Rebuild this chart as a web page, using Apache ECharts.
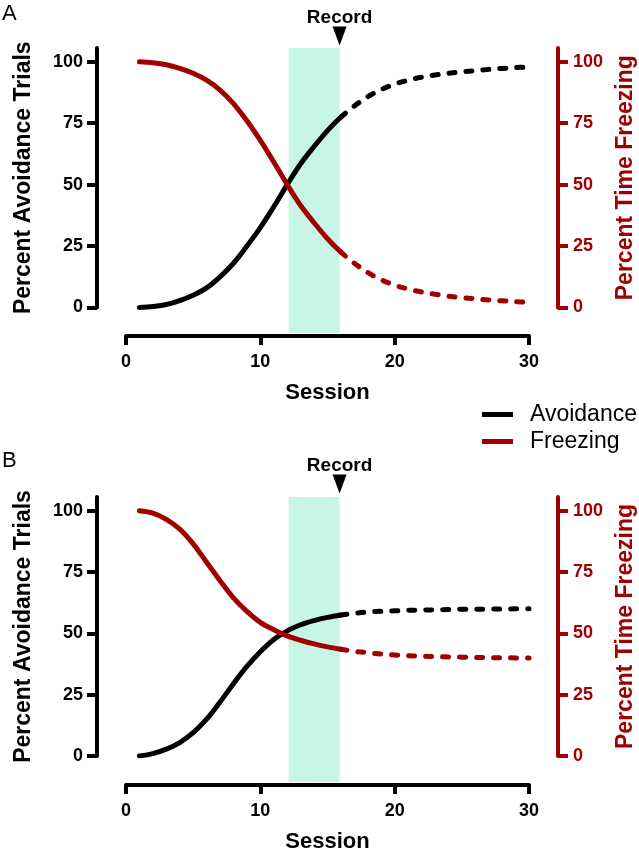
<!DOCTYPE html>
<html>
<head>
<meta charset="utf-8">
<script src="https://cdn.jsdelivr.net/npm/echarts@6/dist/echarts.min.js"></script>
<style>
html,body{margin:0;padding:0;background:#fff;overflow:hidden;}
#chart{width:639px;height:853px;}
</style>
</head>
<body>
<div id="chart"></div>
<script>
// ---- data ----
const sessions = [1,2,3,4,5,6,7,8,9,10,11,12,13,14,15,16,17,18,19,20,21,22,23,24,25,26,27,28,29,30];
const avoidA  = [0,0.4,1.2,2.8,5,8,12.5,18,25,32.5,41,50,58.5,65.5,72,77.5,82,85.8,88.7,90.9,92.5,93.7,94.6,95.3,95.9,96.4,96.9,97.3,97.6,97.9];
const freezeA = [100,99.6,98.8,97.3,95.3,92.5,88.5,83,76,68,59.2,50,41.5,34.5,28,22.5,18,14.2,11.3,9.1,7.5,6.3,5.4,4.6,4,3.5,3.1,2.7,2.4,2.1];
const avoidB  = [0,1,2.8,5.5,9.5,15,22,29.5,36.5,42.5,47.5,51,53.5,55.2,56.5,57.5,58.2,58.7,59,59.2,59.4,59.5,59.6,59.7,59.8,59.8,59.9,59.9,60,60];
const freezeB = [100,99,96.5,92.5,86.5,79,71.5,64.5,59,54.5,51.5,49,47.2,45.7,44.5,43.5,42.7,42.1,41.6,41.2,40.9,40.7,40.5,40.4,40.3,40.2,40.1,40.1,40,40];
const recordSession = 16;     // solid up to here, dashed after
const bandStart = 12.1;
const bandEnd = 15.9;
const xTicks = [0,10,20,30];
const yTicks = [0,25,50,75,100];
const yMax = 105.6;
const panelLabels = ['A','B'];
const legendNames = ['Avoidance','Freezing'];

const RED = '#a00000';
const FONT = 'Liberation Sans, Arial, Helvetica, sans-serif';

function pairs(vals, from, to){
  const out = [];
  for (let i = 0; i < sessions.length; i++) {
    if (sessions[i] >= from && sessions[i] <= to) out.push([sessions[i], vals[i]]);
  }
  return out;
}

const chart = echarts.init(document.getElementById('chart'), null, {renderer:'canvas'});

const L = 126, R = 110;
function grid(top, bottom){
  return {left:L, right:R, top, bottom, containLabel:false, outerBoundsMode:'none'};
}
const grids = [
  grid(48, 545.5),  // A lines
  grid(48, 520),    // A band
  grid(497, 97),    // B lines
  grid(497, 71)     // B band
];

function visibleX(gridIndex, offset){
  return {
    type:'value', gridIndex, min:0, max:30, interval:10, offset,
    name:'Session', nameLocation:'middle', nameGap:46,
    nameTextStyle:{fontSize:22, fontWeight:'bold', color:'#000', fontFamily:FONT},
    axisLine:{show:true, onZero:false, lineStyle:{color:'#000', width:4}},
    axisTick:{show:true, inside:false, length:9, customValues:xTicks, lineStyle:{color:'#000', width:4}},
    axisLabel:{show:true, margin:17, customValues:xTicks, fontSize:18, fontWeight:'bold', color:'#000', fontFamily:FONT},
    splitLine:{show:false}
  };
}
function hiddenX(gridIndex){
  return {type:'value', gridIndex, min:0, max:30, show:false, splitLine:{show:false}};
}
function leftY(gridIndex){
  return {
    type:'value', gridIndex, position:'left', offset:29, min:0, max:yMax,
    name:'Percent Avoidance Trials', nameLocation:'middle', nameGap:62,
    nameTextStyle:{fontSize:23, fontWeight:'bold', color:'#000', fontFamily:FONT},
    axisLine:{show:true, onZero:false, lineStyle:{color:'#000', width:4}},
    axisTick:{show:true, inside:false, length:10, customValues:yTicks, lineStyle:{color:'#000', width:4}},
    axisLabel:{show:true, margin:14, customValues:yTicks, fontSize:18, fontWeight:'bold', color:'#000', fontFamily:FONT},
    splitLine:{show:false}
  };
}
function rightY(gridIndex){
  return {
    type:'value', gridIndex, position:'right', offset:29, min:0, max:yMax,
    name:'Percent Time Freezing', nameLocation:'middle', nameGap:56,
    nameTextStyle:{fontSize:23, fontWeight:'bold', color:RED, fontFamily:FONT},
    axisLine:{show:true, onZero:false, lineStyle:{color:RED, width:4}},
    axisTick:{show:true, inside:false, length:10, customValues:yTicks, lineStyle:{color:RED, width:4}},
    axisLabel:{show:true, margin:15, customValues:yTicks, fontSize:18, fontWeight:'bold', color:RED, fontFamily:FONT},
    splitLine:{show:false}
  };
}
function hiddenY(gridIndex){
  return {type:'value', gridIndex, min:0, max:1, show:false, splitLine:{show:false}};
}

function curve(name, color, data, xi, yi, dashed){
  return {
    name, type:'line', xAxisIndex:xi, yAxisIndex:yi, data,
    smooth:0.35, symbol:'none', showSymbol:false, silent:true, z:3,
    itemStyle:{color},
    lineStyle:{color, width:5, cap:'round', join:'round', type: dashed ? [6,11] : 'solid'}
  };
}
function band(xi, yi, arrowOffset, textOffset){
  return {
    name:'band', type:'line', xAxisIndex:xi, yAxisIndex:yi, data:[], z:1, silent:true,
    markArea:{silent:true, itemStyle:{color:'#c8f6e6', opacity:1},
      data:[[{xAxis:bandStart},{xAxis:bandEnd}]]},
    markPoint:{silent:true, animation:false,
      data:[
        {coord:[bandEnd,1], symbol:'triangle', symbolRotate:180, symbolSize:[14,19],
         symbolOffset:[0,arrowOffset], itemStyle:{color:'#000'}, label:{show:false}},
        {coord:[bandEnd,1], symbol:'circle', symbolSize:1, itemStyle:{color:'rgba(0,0,0,0)'},
         label:{show:true, position:'inside', offset:[0,textOffset], formatter:'Record',
                fontSize:19, fontWeight:'bold', color:'#000', fontFamily:FONT}}
      ]}
  };
}

const option = {
  animation:false,
  backgroundColor:'#fff',
  textStyle:{fontFamily:FONT},
  title:[
    {text:panelLabels[0], left:0, top:1, padding:[2,2,2,2], textStyle:{fontSize:22, fontWeight:'normal', color:'#000', fontFamily:FONT}},
    {text:panelLabels[1], left:0, top:448, padding:[2,2,2,2], textStyle:{fontSize:22, fontWeight:'normal', color:'#000', fontFamily:FONT}}
  ],
  legend:{
    orient:'vertical', left:482, top:403, padding:0, itemWidth:31, itemHeight:5, itemGap:4,
    textStyle:{fontSize:23, color:'#000', fontFamily:FONT, lineHeight:22, padding:[0,0,0,12]},
    data:[{name:legendNames[0], icon:'rect'},{name:legendNames[1], icon:'rect'}],
    selectedMode:false
  },
  grid:grids,
  xAxis:[visibleX(0,28.5), hiddenX(1), visibleX(2,29), hiddenX(3)],
  yAxis:[leftY(0), rightY(0), hiddenY(1), leftY(2), rightY(2), hiddenY(3)],
  series:[
    band(1,2,-12,-30),
    curve(legendNames[0],'#000',pairs(avoidA,1,recordSession),0,0,false),
    curve(legendNames[0],'#000',pairs(avoidA,recordSession,30),0,0,true),
    curve(legendNames[1],RED,pairs(freezeA,1,recordSession),0,1,false),
    curve(legendNames[1],RED,pairs(freezeA,recordSession,30),0,1,true),
    band(3,5,-13,-31),
    curve(legendNames[0],'#000',pairs(avoidB,1,recordSession),2,3,false),
    curve(legendNames[0],'#000',pairs(avoidB,recordSession,30),2,3,true),
    curve(legendNames[1],RED,pairs(freezeB,1,recordSession),2,4,false),
    curve(legendNames[1],RED,pairs(freezeB,recordSession,30),2,4,true)
  ]
};
chart.setOption(option);
</script>
</body>
</html>
